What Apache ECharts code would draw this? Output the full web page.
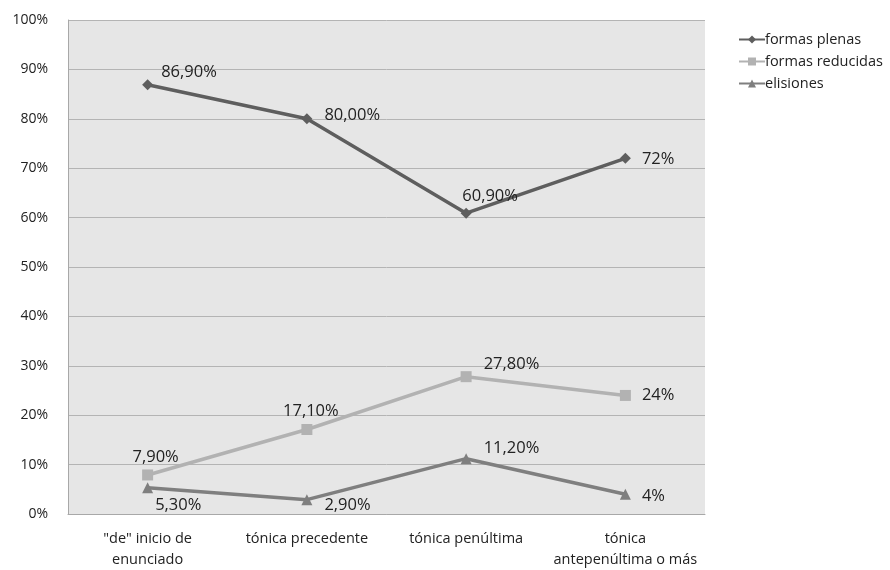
<!DOCTYPE html>
<html><head><meta charset="utf-8">
<script src="https://cdn.jsdelivr.net/npm/echarts@6/dist/echarts.min.js"></script>
<style>html,body{margin:0;padding:0;background:#fff}#c{width:890px;height:570px}</style>
</head><body><div id="c"></div>
<script>
const categories = ['"de" inicio de\nenunciado', 'tónica precedente', 'tónica penúltima', 'tónica\nantepenúltima o más'];
const seriesNames = ['formas plenas', 'formas reducidas', 'elisiones'];
const plenas = [86.9, 80.0, 60.9, 72];
const reducidas = [7.9, 17.1, 27.8, 24];
const elisiones = [5.3, 2.9, 11.2, 4];
const plenasLabels = ['86,90%', '80,00%', '60,90%', '72%'];
const reducidasLabels = ['7,90%', '17,10%', '27,80%', '24%'];
const elisionesLabels = ['5,30%', '2,90%', '11,20%', '4%'];
const yTicks = [0, 10, 20, 30, 40, 50, 60, 70, 80, 90, 100];

const FONT = 'Open Sans';
const labelStyle = {show: true, color: '#222', fontFamily: FONT, fontSize: 16.5};

function mk(vals, labels, labelCfg) {
  return vals.map((v, i) => ({
    value: v,
    label: Object.assign({}, labelStyle, {formatter: labels[i]}, labelCfg[i])
  }));
}

const chart = echarts.init(document.getElementById('c'));
chart.setOption({
  animation: false,
  backgroundColor: '#fff',
  grid: {left: 68, right: 185, top: 20, bottom: 56, show: true, backgroundColor: '#e6e6e6', borderWidth: 0},
  legend: {
    orient: 'vertical', left: 733, top: 27, itemWidth: 26, itemHeight: 10, itemGap: 7,
    textStyle: {fontFamily: FONT, fontSize: 14.5, color: '#222', padding: [0,0,0,-5]},
    data: seriesNames
  },
  xAxis: {
    type: 'category', data: categories, boundaryGap: true,
    axisLine: {lineStyle: {color: '#a8a8a8', width: 1}},
    axisTick: {show: false},
    axisLabel: {fontFamily: FONT, fontSize: 14.5, color: '#222', margin: 14, lineHeight: 21, interval: 0}
  },
  yAxis: {
    type: 'value', min: 0, max: 100, interval: 10,
    axisLine: {show: true, lineStyle: {color: '#a8a8a8', width: 1}},
    axisTick: {show: false},
    splitLine: {lineStyle: {color: '#b4b4b4', width: 1}},
    axisLabel: {fontFamily: FONT, fontSize: 14, color: '#222', margin: 20, formatter: v => yTicks.includes(v) ? v + '%' : ''}
  },
  series: [
    {
      name: seriesNames[0], type: 'line', symbol: 'diamond', symbolSize: 11,
      lineStyle: {color: '#5e5e5e', width: 3.5}, itemStyle: {color: '#5e5e5e'},
      data: mk(plenas, plenasLabels, [
        {position: 'right', offset: [3, -12]},
        {position: 'right', offset: [7, -4]},
        {position: 'top', offset: [24, 2]},
        {position: 'right', offset: [6, 1]}
      ])
    },
    {
      name: seriesNames[1], type: 'line', symbol: 'rect', symbolSize: 11,
      lineStyle: {color: '#b2b2b2', width: 3.5}, itemStyle: {color: '#b2b2b2'},
      data: mk(reducidas, reducidasLabels, [
        {position: 'top', offset: [8, 1]},
        {position: 'top', offset: [4, 1]},
        {position: 'right', offset: [7, -12]},
        {position: 'right', offset: [6, 0]}
      ])
    },
    {
      name: seriesNames[2], type: 'line', symbol: 'triangle', symbolSize: 11,
      lineStyle: {color: '#7f7f7f', width: 3.5}, itemStyle: {color: '#7f7f7f'},
      data: mk(elisiones, elisionesLabels, [
        {position: 'right', offset: [-3, 17]},
        {position: 'right', offset: [7, 6]},
        {position: 'right', offset: [7, -10]},
        {position: 'right', offset: [6, 2]}
      ])
    }
  ]
});
</script>
</body></html>
